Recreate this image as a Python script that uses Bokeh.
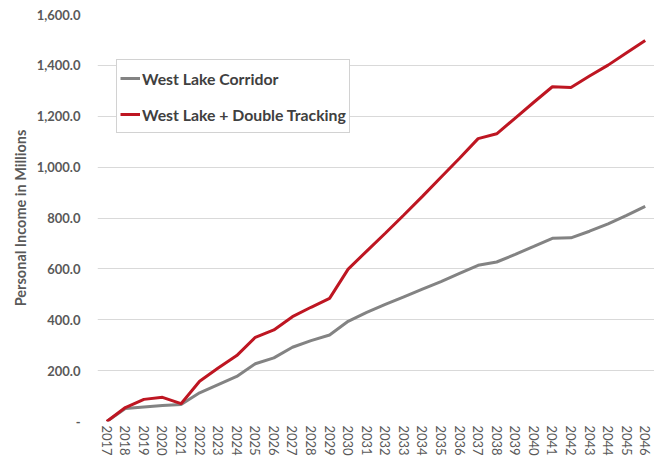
from bokeh.plotting import figure
from bokeh.models import ColumnDataSource, FactorRange, Range1d, FixedTicker, Legend, LegendItem
from bokeh.embed import file_html
from bokeh.resources import INLINE

years = [str(y) for y in range(2017, 2047)]
west_lake = [0, 51, 57, 63, 67, 113, 145, 177, 227, 250, 292, 318, 340, 394, 429,
             460, 490, 520, 550, 582, 614, 627, 657, 688, 720, 722, 748, 777, 810, 846]
double_tracking = [0, 55, 87, 95, 70, 158, 210, 259, 331, 360, 412, 449, 484, 599, 670,
                   740, 812, 885, 960, 1035, 1112, 1131, 1193, 1255, 1316, 1313, 1358, 1401, 1450, 1498]
y_ticks = [0, 200, 400, 600, 800, 1000, 1200, 1400, 1600]
y_tick_labels = ["-", "200.0", "400.0", "600.0", "800.0", "1,000.0", "1,200.0", "1,400.0", "1,600.0"]
series_names = ["West Lake Corridor", "West Lake + Double Tracking"]

FONT = "Lato"
TXT = "#595959"

src = ColumnDataSource(dict(year=years, wl=west_lake, dt=double_tracking))

p = figure(width=654, height=458, x_range=FactorRange(*years), y_range=Range1d(0, 1600),
           output_backend="svg", toolbar_location=None,
           min_border_left=97, min_border_right=0, min_border_top=14, min_border_bottom=35)
p.outline_line_color = None
p.background_fill_color = "white"
p.border_fill_color = "white"

r1 = p.line("year", "wl", source=src, line_color="#838383", line_width=3)
r2 = p.line("year", "dt", source=src, line_color="#BE1622", line_width=3)

p.xgrid.grid_line_color = None
p.ygrid.grid_line_color = "#D9D9D9"
p.ygrid.grid_line_width = 1

p.yaxis.ticker = FixedTicker(ticks=y_ticks)
p.yaxis.major_label_overrides = {t: l for t, l in zip(y_ticks, y_tick_labels)}
p.yaxis.axis_label = "Personal Income in Millions"
p.yaxis.axis_label_text_font = FONT
p.yaxis.axis_label_text_font_size = "14.5px"
p.yaxis.axis_label_text_font_style = "bold"
p.yaxis.axis_label_text_color = TXT
p.yaxis.axis_label_standoff = 5
p.yaxis.major_label_text_font = FONT
p.yaxis.major_label_text_font_size = "13px"
p.yaxis.major_label_text_font_style = "bold"
p.yaxis.major_label_text_color = TXT
p.yaxis.major_label_standoff = 17

p.xaxis.major_label_orientation = "vertical"
p.xaxis.major_label_text_font = FONT
p.xaxis.major_label_text_font_size = "13px"
p.xaxis.major_label_text_color = TXT
p.xaxis.major_label_standoff = 4

for ax in (p.xaxis, p.yaxis):
    ax.axis_line_color = None
    ax.major_tick_line_color = None
    ax.minor_tick_line_color = None
    ax.major_tick_out = 0
    ax.major_tick_in = 0
    ax.minor_tick_out = 0
    ax.minor_tick_in = 0

legend = Legend(items=[LegendItem(label=series_names[0], renderers=[r1]),
                       LegendItem(label=series_names[1], renderers=[r2])],
                location=(19, 288), padding=3, margin=0, spacing=6,
                label_height=30, glyph_height=30, glyph_width=20, label_standoff=2,
                label_text_font=FONT, label_text_font_size="15.8px", label_text_font_style="bold",
                label_text_color="#404040", border_line_color="#A6A6A6", border_line_width=1,
                background_fill_color="white", background_fill_alpha=1)
p.add_layout(legend)

open("out.html", "w").write(file_html(p, INLINE))
